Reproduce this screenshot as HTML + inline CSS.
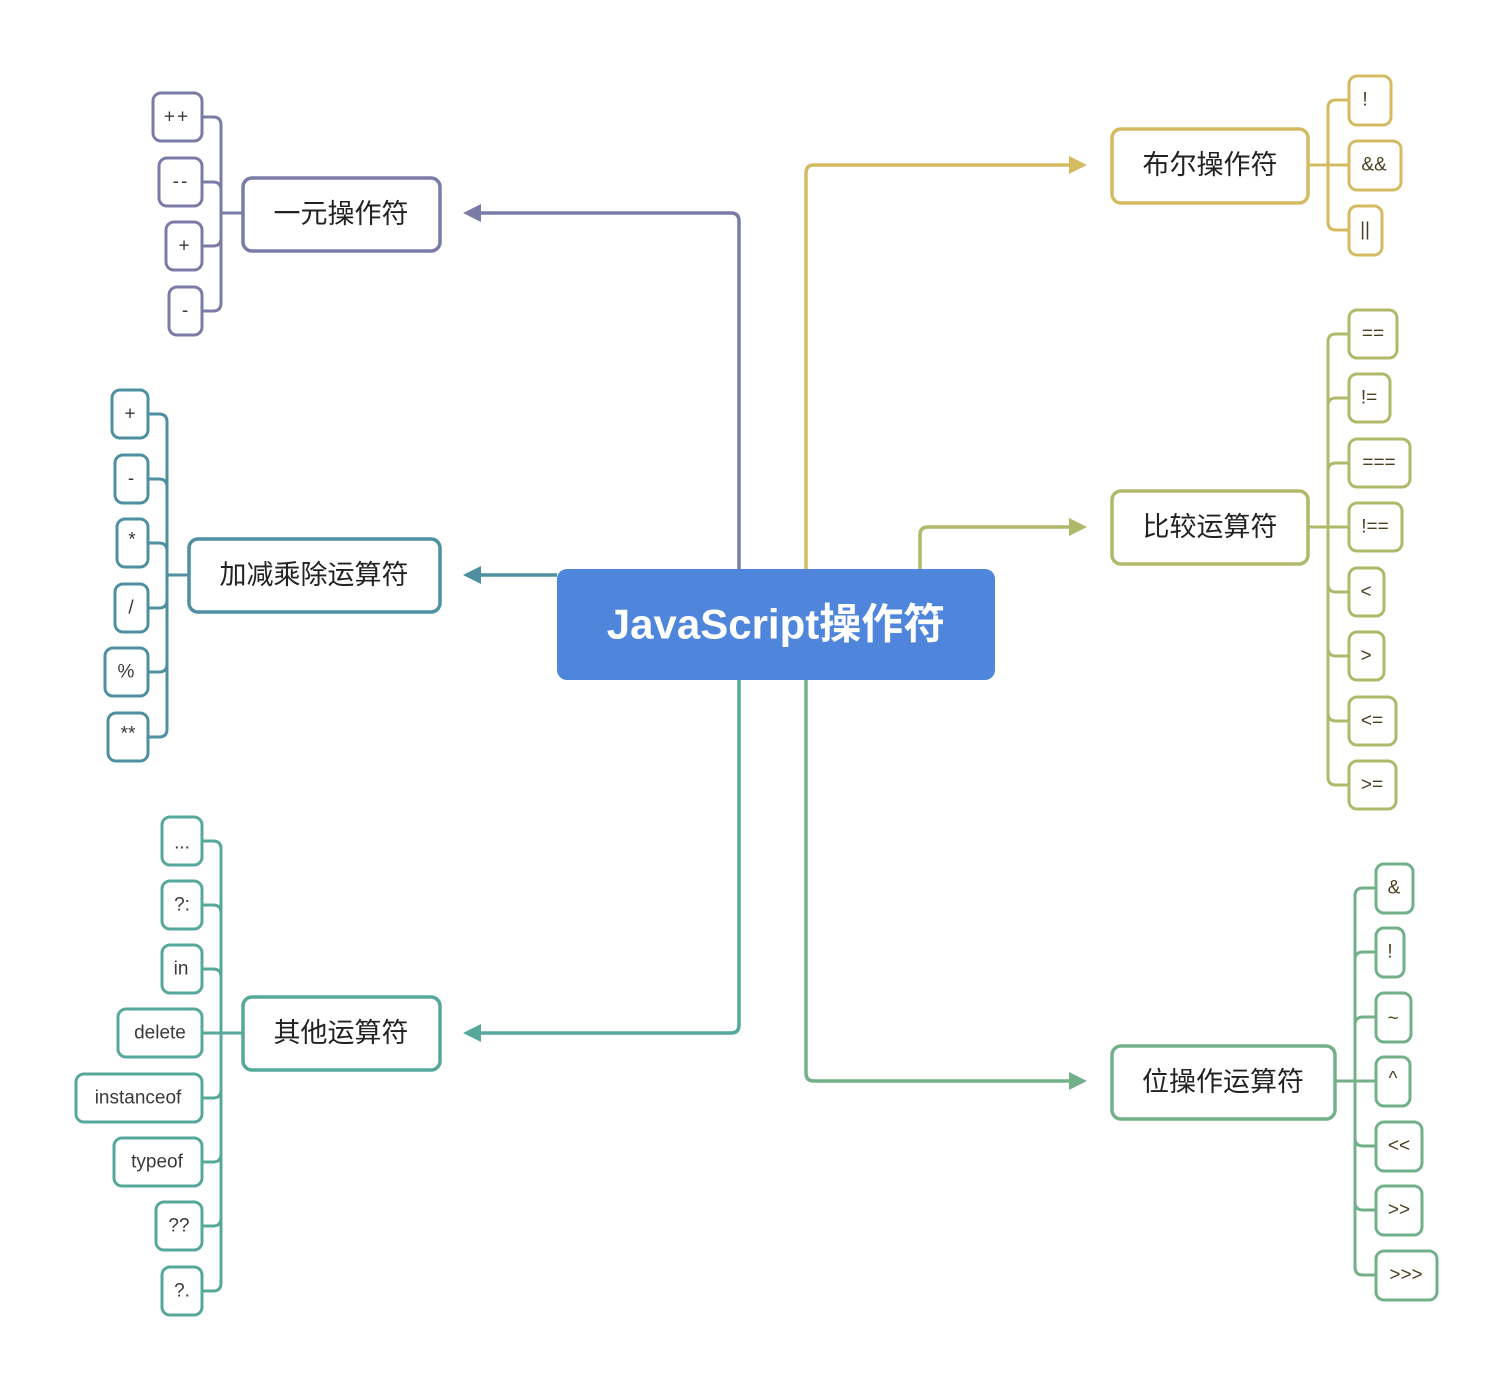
<!DOCTYPE html>
<html><head><meta charset="utf-8"><style>
html,body{margin:0;padding:0;background:#fff;}
svg{display:block;}
text{font-family:"Liberation Sans","Noto Sans CJK SC",sans-serif;}
.m{font-size:27px;fill:#222;text-anchor:middle;dominant-baseline:central;}
.l{font-size:19px;fill:#3a3a3a;text-anchor:middle;dominant-baseline:central;}
.r{font-size:19px;fill:#4a4020;text-anchor:middle;dominant-baseline:central;}
</style></head><body>
<svg width="1512" height="1392" viewBox="0 0 1512 1392" xmlns="http://www.w3.org/2000/svg">
<g fill="none" stroke-width="3.5" stroke-linejoin="round">
<path d="M739,569 V221 Q739,213 731,213 H478" stroke="#7b7ba8"/>
<path d="M557,575 H478" stroke="#4e8fa0"/>
<path d="M739,680 V1025 Q739,1033 731,1033 H478" stroke="#56a89a"/>
<path d="M806,569 V173 Q806,165 814,165 H1072" stroke="#d4bb62"/>
<path d="M920,569 V535 Q920,527 928,527 H1072" stroke="#b0b86a"/>
<path d="M806,680 V1073 Q806,1081 814,1081 H1072" stroke="#72b08a"/>
</g>
<g stroke="none">
<polygon points="463,213 481,204 481,222" fill="#7b7ba8"/>
<polygon points="463,575 481,566 481,584" fill="#4e8fa0"/>
<polygon points="463,1033 481,1024 481,1042" fill="#56a89a"/>
<polygon points="1087,165 1069,156 1069,174" fill="#d4bb62"/>
<polygon points="1087,527 1069,518 1069,536" fill="#b0b86a"/>
<polygon points="1087,1081 1069,1072 1069,1090" fill="#72b08a"/>
</g>
<rect x="557" y="569" width="438" height="111" rx="10" fill="#4f86dc"/>
<text x="776" y="624" fill="#fff" font-size="42" font-weight="bold" text-anchor="middle" dominant-baseline="central">JavaScript操作符</text>

<g fill="none" stroke="#7b7ba8" stroke-width="3">
<path d="M221,125 V303"/>
<path d="M202,117 H213 Q221,117 221,125"/>
<path d="M202,182 H213 Q221,182 221,190"/>
<path d="M202,246 H213 Q221,246 221,238"/>
<path d="M202,311 H213 Q221,311 221,303"/>
<path d="M221,213 H243"/>
<rect x="153" y="93" width="49" height="48" rx="8" fill="#fff"/>
<rect x="159" y="158" width="43" height="48" rx="8" fill="#fff"/>
<rect x="166" y="222" width="36" height="48" rx="8" fill="#fff"/>
<rect x="169" y="287" width="33" height="48" rx="8" fill="#fff"/>
<rect x="243" y="178" width="197" height="73" rx="9" fill="#fff" stroke-width="3.5"/>
</g>
<text class="l" x="177" y="117" letter-spacing="2">++</text>
<text class="l" x="181" y="182" letter-spacing="2">--</text>
<text class="l" x="184" y="246">+</text>
<text class="l" x="185" y="311">-</text>
<text class="m" x="341" y="214">一元操作符</text>

<g fill="none" stroke="#4e8fa0" stroke-width="3">
<path d="M167,422 V729"/>
<path d="M148,414 H159 Q167,414 167,422"/>
<path d="M148,479 H159 Q167,479 167,487"/>
<path d="M148,543 H159 Q167,543 167,551"/>
<path d="M148,608 H159 Q167,608 167,600"/>
<path d="M148,672 H159 Q167,672 167,664"/>
<path d="M148,737 H159 Q167,737 167,729"/>
<path d="M167,575 H189"/>
<rect x="112" y="390" width="36" height="48" rx="8" fill="#fff"/>
<rect x="115" y="455" width="33" height="48" rx="8" fill="#fff"/>
<rect x="117" y="519" width="31" height="48" rx="8" fill="#fff"/>
<rect x="115" y="584" width="33" height="48" rx="8" fill="#fff"/>
<rect x="105" y="648" width="43" height="48" rx="8" fill="#fff"/>
<rect x="108" y="713" width="40" height="48" rx="8" fill="#fff"/>
<rect x="189" y="539" width="251" height="73" rx="9" fill="#fff" stroke-width="3.5"/>
</g>
<text class="l" x="130" y="414">+</text>
<text class="l" x="131" y="479">-</text>
<text class="l" x="132" y="540" font-size="14">*</text>
<text class="l" x="131" y="608">/</text>
<text class="l" x="126" y="672">%</text>
<text class="l" x="128" y="734" font-size="14">**</text>
<text class="m" x="314" y="575">加减乘除运算符</text>

<g fill="none" stroke="#56a89a" stroke-width="3">
<path d="M221,849 V1283"/>
<path d="M202,841 H213 Q221,841 221,849"/>
<path d="M202,905 H213 Q221,905 221,913"/>
<path d="M202,969 H213 Q221,969 221,977"/>
<path d="M202,1098 H213 Q221,1098 221,1090"/>
<path d="M202,1162 H213 Q221,1162 221,1154"/>
<path d="M202,1226 H213 Q221,1226 221,1218"/>
<path d="M202,1291 H213 Q221,1291 221,1283"/>
<path d="M202,1033 H243"/>
<rect x="162" y="817" width="40" height="48" rx="8" fill="#fff"/>
<rect x="162" y="881" width="40" height="48" rx="8" fill="#fff"/>
<rect x="162" y="945" width="40" height="48" rx="8" fill="#fff"/>
<rect x="118" y="1009" width="84" height="48" rx="8" fill="#fff"/>
<rect x="76" y="1074" width="126" height="48" rx="8" fill="#fff"/>
<rect x="114" y="1138" width="88" height="48" rx="8" fill="#fff"/>
<rect x="156" y="1202" width="46" height="48" rx="8" fill="#fff"/>
<rect x="162" y="1267" width="40" height="48" rx="8" fill="#fff"/>
<rect x="243" y="997" width="197" height="73" rx="9" fill="#fff" stroke-width="3.5"/>
</g>
<text class="l" x="182" y="843">...</text>
<text class="l" x="182" y="905">?:</text>
<text class="l" x="181" y="969">in</text>
<text class="l" x="160" y="1033">delete</text>
<text class="l" x="138" y="1098">instanceof</text>
<text class="l" x="157" y="1162">typeof</text>
<text class="l" x="179" y="1226">??</text>
<text class="l" x="182" y="1291">?.</text>
<text class="m" x="341" y="1033">其他运算符</text>

<g fill="none" stroke="#d4bb62" stroke-width="3">
<path d="M1328,108 V222"/>
<path d="M1349,100 H1336 Q1328,100 1328,108"/>
<path d="M1349,230 H1336 Q1328,230 1328,222"/>
<path d="M1308,165 H1349"/>
<rect x="1349" y="76" width="42" height="49" rx="8" fill="#fff"/>
<rect x="1349" y="141" width="52" height="49" rx="8" fill="#fff"/>
<rect x="1349" y="206" width="33" height="49" rx="8" fill="#fff"/>
<rect x="1112" y="129" width="196" height="74" rx="9" fill="#fff" stroke-width="3.5"/>
</g>
<text class="r" x="1365" y="100">!</text>
<text class="r" x="1374" y="165">&amp;&amp;</text>
<text class="r" x="1365" y="230">||</text>
<text class="m" x="1210" y="165">布尔操作符</text>

<g fill="none" stroke="#b0b86a" stroke-width="3">
<path d="M1328,342 V777"/>
<path d="M1349,334 H1336 Q1328,334 1328,342"/>
<path d="M1349,398 H1336 Q1328,398 1328,406"/>
<path d="M1349,463 H1336 Q1328,463 1328,471"/>
<path d="M1349,592 H1336 Q1328,592 1328,584"/>
<path d="M1349,656 H1336 Q1328,656 1328,648"/>
<path d="M1349,721 H1336 Q1328,721 1328,713"/>
<path d="M1349,785 H1336 Q1328,785 1328,777"/>
<path d="M1308,527 H1349"/>
<rect x="1349" y="310" width="48" height="48" rx="8" fill="#fff"/>
<rect x="1349" y="374" width="41" height="48" rx="8" fill="#fff"/>
<rect x="1349" y="439" width="61" height="48" rx="8" fill="#fff"/>
<rect x="1349" y="503" width="53" height="48" rx="8" fill="#fff"/>
<rect x="1349" y="568" width="35" height="48" rx="8" fill="#fff"/>
<rect x="1349" y="632" width="35" height="48" rx="8" fill="#fff"/>
<rect x="1349" y="697" width="47" height="48" rx="8" fill="#fff"/>
<rect x="1349" y="761" width="47" height="48" rx="8" fill="#fff"/>
<rect x="1112" y="491" width="196" height="73" rx="9" fill="#fff" stroke-width="3.5"/>
</g>
<text class="r" x="1373" y="334">==</text>
<text class="r" x="1369" y="398">!=</text>
<text class="r" x="1379" y="463">===</text>
<text class="r" x="1375" y="527">!==</text>
<text class="r" x="1366" y="592">&lt;</text>
<text class="r" x="1366" y="656">&gt;</text>
<text class="r" x="1372" y="721">&lt;=</text>
<text class="r" x="1372" y="785">&gt;=</text>
<text class="m" x="1210" y="527">比较运算符</text>

<g fill="none" stroke="#72b08a" stroke-width="3">
<path d="M1355,896 V1267"/>
<path d="M1376,888 H1363 Q1355,888 1355,896"/>
<path d="M1376,952 H1363 Q1355,952 1355,960"/>
<path d="M1376,1017 H1363 Q1355,1017 1355,1025"/>
<path d="M1376,1146 H1363 Q1355,1146 1355,1138"/>
<path d="M1376,1210 H1363 Q1355,1210 1355,1202"/>
<path d="M1376,1275 H1363 Q1355,1275 1355,1267"/>
<path d="M1335,1081 H1376"/>
<rect x="1376" y="864" width="37" height="49" rx="8" fill="#fff"/>
<rect x="1376" y="928" width="28" height="49" rx="8" fill="#fff"/>
<rect x="1376" y="993" width="35" height="49" rx="8" fill="#fff"/>
<rect x="1376" y="1057" width="34" height="49" rx="8" fill="#fff"/>
<rect x="1376" y="1122" width="46" height="49" rx="8" fill="#fff"/>
<rect x="1376" y="1186" width="46" height="49" rx="8" fill="#fff"/>
<rect x="1376" y="1251" width="61" height="49" rx="8" fill="#fff"/>
<rect x="1112" y="1046" width="223" height="73" rx="9" fill="#fff" stroke-width="3.5"/>
</g>
<text class="r" x="1394" y="888">&amp;</text>
<text class="r" x="1390" y="952">!</text>
<text class="r" x="1393" y="1019">~</text>
<text class="r" x="1393" y="1079" font-size="15">^</text>
<text class="r" x="1399" y="1146">&lt;&lt;</text>
<text class="r" x="1399" y="1210">&gt;&gt;</text>
<text class="r" x="1406" y="1275">&gt;&gt;&gt;</text>
<text class="m" x="1223" y="1082">位操作运算符</text>
</svg>
</body></html>
